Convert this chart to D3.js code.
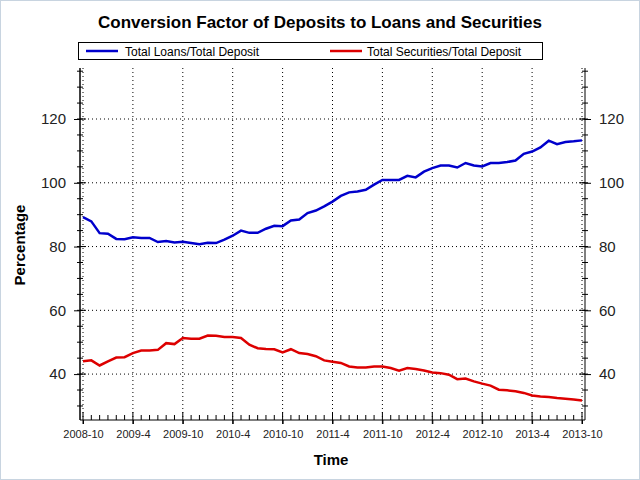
<!DOCTYPE html>
<html><head><meta charset="utf-8">
<script src="https://cdn.jsdelivr.net/npm/d3@7"></script>
<style>body{margin:0;background:#fff}svg{display:block}</style>
</head><body>
<script>
const startMonth = "2008-10";
const loans = [89.2,87.9,84.2,84.0,82.4,82.3,82.9,82.7,82.7,81.4,81.7,81.3,81.5,81.1,80.7,81.2,81.1,82.2,83.4,85.0,84.3,84.3,85.6,86.5,86.4,88.2,88.5,90.5,91.3,92.6,94.1,95.9,97.0,97.3,97.8,99.4,100.9,100.9,100.9,102.2,101.7,103.5,104.6,105.4,105.4,104.8,106.2,105.4,105.1,106.2,106.2,106.5,107.0,109.1,109.8,111.1,113.2,112.1,112.8,113.0,113.3];
const securities = [44.0,44.3,42.7,44.0,45.2,45.3,46.6,47.4,47.4,47.6,49.7,49.4,51.3,51.1,51.1,52.1,52.0,51.6,51.6,51.3,49.2,48.1,47.9,47.8,46.8,47.8,46.6,46.3,45.6,44.3,43.9,43.5,42.4,42.1,42.1,42.4,42.4,41.9,41.1,41.9,41.6,41.1,40.5,40.3,39.8,38.4,38.6,37.7,37.0,36.4,35.1,34.9,34.6,34.1,33.3,33.0,32.8,32.5,32.3,32.0,31.7];
const xTickLabels = ["2008-10","2009-4","2009-10","2010-4","2010-10","2011-4","2011-10","2012-4","2012-10","2013-4","2013-10"];
const yTicks = [40,60,80,100,120];
const seriesNames = ["Total Loans/Total Deposit","Total Securities/Total Deposit"];
const colors = ["#0000cc","#dd0000"];

const W=640,H=480, L=80, R=585, T=68, B=420;
const svg=d3.select("body").append("svg").attr("width",W).attr("height",H).style("font-family","Arial, Liberation Sans, sans-serif");
svg.append("rect").attr("x",0.5).attr("y",0.5).attr("width",W-1).attr("height",H-1).attr("fill","#fff").attr("stroke","#c8d4e0");
const x=d3.scaleLinear().domain([0,60]).range([83,582]);
const y=d3.scaleLinear().domain([25.6,136]).range([B,T]);

// grid
const g=svg.append("g");
xTickLabels.forEach((t,i)=>{g.append("line").attr("x1",x(i*6)).attr("x2",x(i*6)).attr("y1",T).attr("y2",B).attr("stroke","#000").attr("stroke-dasharray","1,3");});
yTicks.forEach(v=>{g.append("line").attr("x1",L).attr("x2",R).attr("y1",y(v)).attr("y2",y(v)).attr("stroke","#000").attr("stroke-dasharray","1,3");});

// axes
const minorY=d3.range(30,136,5);
const yl=d3.axisLeft(y).tickValues(yTicks).tickSize(6).tickPadding(8);
const ya=svg.append("g").attr("transform",`translate(${L},0)`).call(yl);
ya.select(".domain").attr("d",`M0,${T}V${B}`);
ya.selectAll("text").style("font-size","15px").attr("fill","#222");
const yr=d3.axisRight(y).tickValues(yTicks).tickSize(6).tickPadding(8);
const yra=svg.append("g").attr("transform",`translate(${R},0)`).call(yr);
yra.select(".domain").attr("d",`M0,${T}V${B}`);
yra.selectAll("text").style("font-size","15px").attr("fill","#222");
minorY.forEach(v=>{[L,R].forEach(px=>{svg.append("line").attr("x1",px-3).attr("x2",px+3).attr("y1",y(v)).attr("y2",y(v)).attr("stroke","#000");});});
yTicks.forEach(v=>{svg.append("line").attr("x1",L).attr("x2",L+6).attr("y1",y(v)).attr("y2",y(v)).attr("stroke","#000");svg.append("line").attr("x1",R-6).attr("x2",R).attr("y1",y(v)).attr("y2",y(v)).attr("stroke","#000");});

const xa=svg.append("g").attr("transform",`translate(0,${B})`).call(d3.axisBottom(x).tickValues(d3.range(0,61,6)).tickFormat((d,i)=>xTickLabels[i]).tickSize(4).tickPadding(6));
xa.select(".domain").attr("d",`M${L},0H${R}`);
xa.selectAll("text").style("font-size","11px").attr("fill","#222");
d3.range(0,61).forEach(i=>{svg.append("line").attr("x1",x(i)).attr("x2",x(i)).attr("y1",B-(i%6?5:8)).attr("y2",B+(i%6?0:4)).attr("stroke","#000");});
svg.append("line").attr("x1",L).attr("x2",L).attr("y1",T).attr("y2",B).attr("stroke","#000");

// lines
const line=d3.line().x((d,i)=>x(i)).y(d=>y(d));
[loans,securities].forEach((s,k)=>svg.append("path").datum(s).attr("d",line).attr("fill","none").attr("stroke",colors[k]).attr("stroke-width",2.5));

// titles
svg.append("text").attr("x",320).attr("y",28).attr("text-anchor","middle").style("font-size","17px").style("font-weight","bold").text("Conversion Factor of Deposits to Loans and Securities");
svg.append("text").attr("x",331).attr("y",465).attr("text-anchor","middle").style("font-size","15px").style("font-weight","bold").text("Time");
svg.append("text").attr("transform","translate(25,245) rotate(-90)").attr("text-anchor","middle").style("font-size","15px").style("font-weight","bold").text("Percentage");

// legend
svg.append("rect").attr("x",78.5).attr("y",42.5).attr("width",464).attr("height",17).attr("fill","#fff").attr("stroke","#000");
[[86,125],[330,367]].forEach((p,k)=>{
 svg.append("line").attr("x1",p[0]).attr("x2",p[0]+32).attr("y1",51).attr("y2",51).attr("stroke",colors[k]).attr("stroke-width",2.5);
 svg.append("text").attr("x",p[1]).attr("y",55.5).style("font-size","12px").text(seriesNames[k]);
});
</script>
</body></html>
